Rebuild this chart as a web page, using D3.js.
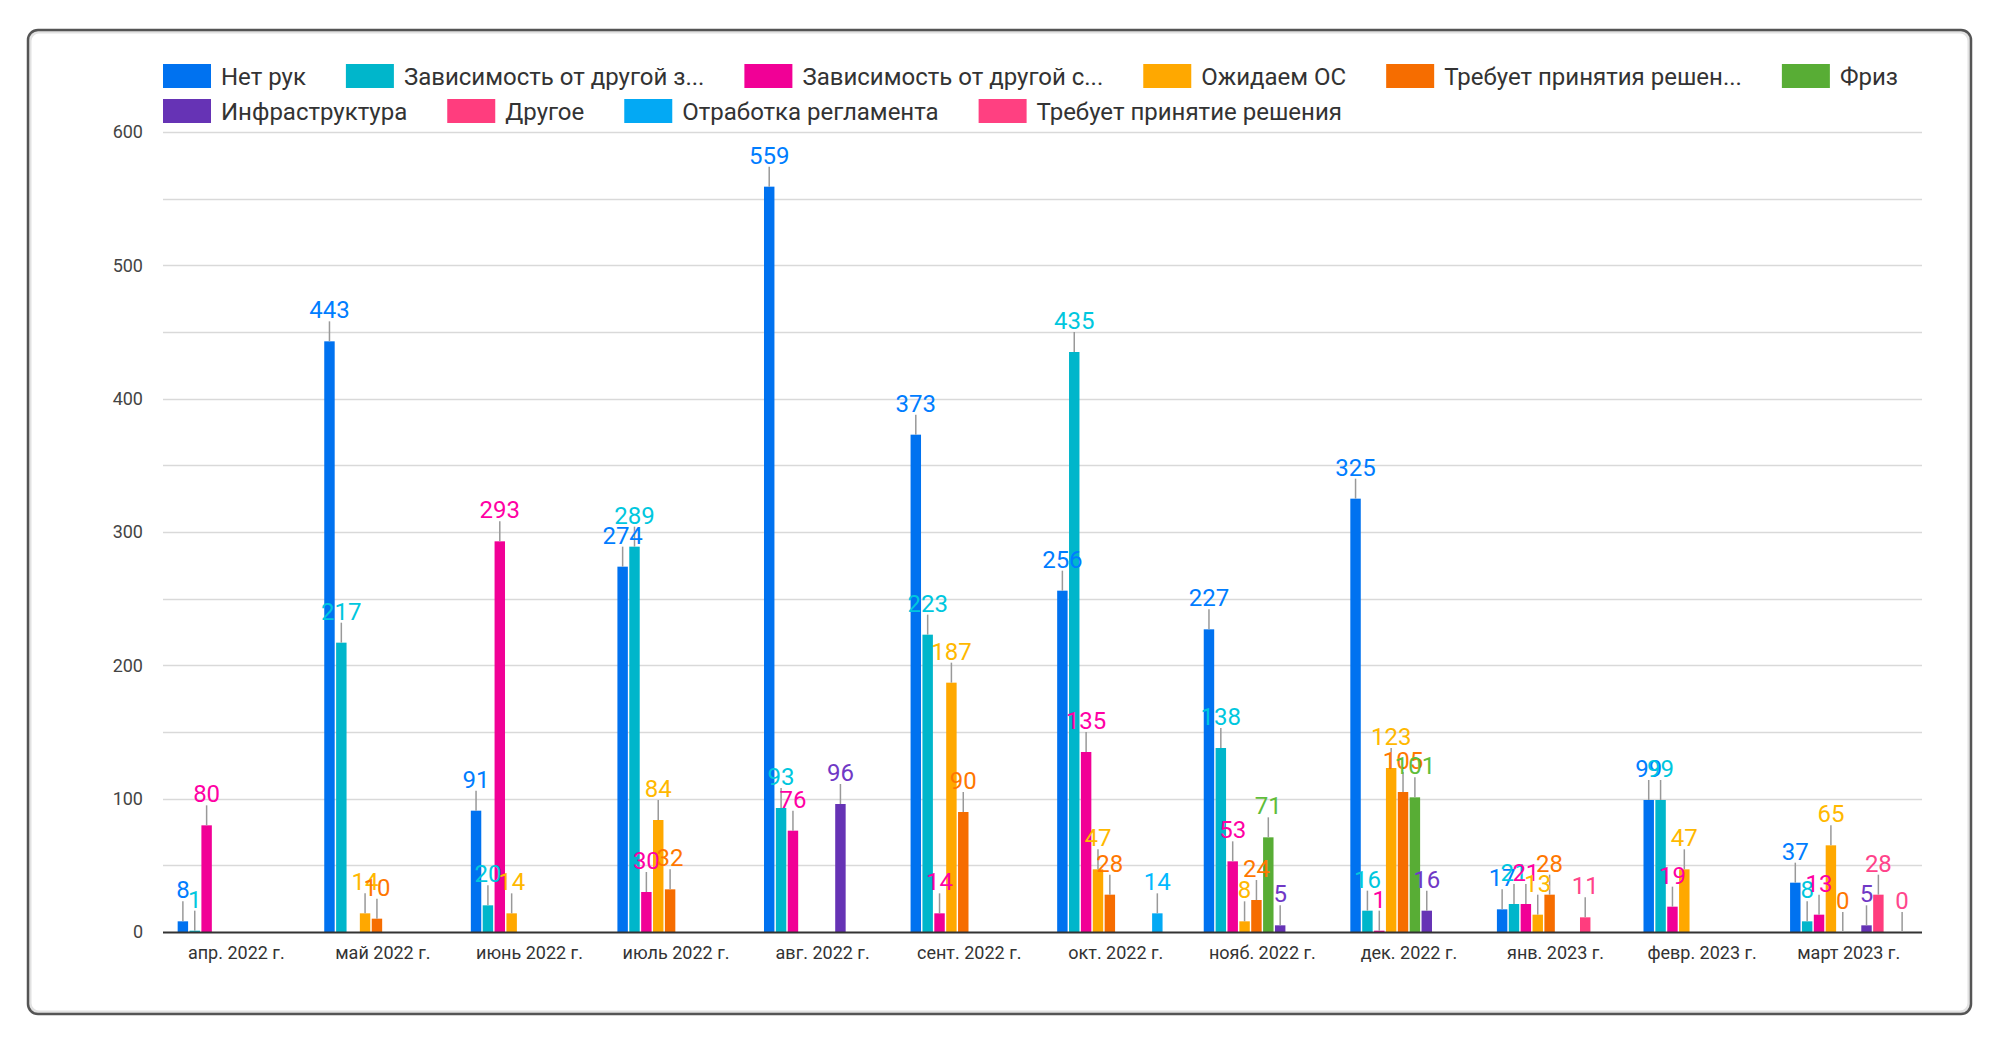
<!DOCTYPE html>
<html>
<head>
<meta charset="utf-8">
<script src="https://cdn.jsdelivr.net/npm/d3@7"></script>
<style>
  html, body { margin: 0; padding: 0; background: #fff; }
  svg { display: block; font-family: Roboto, "Noto Sans", sans-serif; }
</style>
</head>
<body>
<svg id="chart" width="2000" height="1048"></svg>
<script>
// ---- data ----
const months = ["апр. 2022 г.", "май 2022 г.", "июнь 2022 г.", "июль 2022 г.", "авг. 2022 г.", "сент. 2022 г.",
  "окт. 2022 г.", "нояб. 2022 г.", "дек. 2022 г.", "янв. 2023 г.", "февр. 2023 г.", "март 2023 г."];

const seriesNames = ["Нет рук", "Зависимость от другой з...", "Зависимость от другой с...", "Ожидаем ОС",
  "Требует принятия решен...", "Фриз", "Инфраструктура", "Другое", "Отработка регламента", "Требует принятие решения"];

const seriesColors = ["#0072f0", "#00b6cb", "#f10096", "#ffa800", "#f66d00", "#58ad35", "#6633b5", "#ff3d7e", "#03a9f4", "#ff4081"];

const netRuk     = [8, 443, 91, 274, 559, 373, 256, 227, 325, 17, 99, 37];
const zavZ       = [1, 217, 20, 289, 93, 223, 435, 138, 16, 21, 99, 8];
const zavS       = [80, null, 293, 30, 76, 14, 135, 53, 1, 21, 19, 13];
const ozhidaem   = [null, 14, 14, 84, null, 187, 47, 8, 123, 13, 47, 65];
const trebuet    = [null, 10, null, 32, null, 90, 28, 24, 105, 28, null, 0];
const friz       = [null, null, null, null, null, null, null, 71, 101, null, null, null];
const infra      = [null, null, null, null, 96, null, null, 5, 16, null, null, 5];
const drugoe     = [null, null, null, null, null, null, null, null, null, 11, null, 28];
const otrabotka  = [null, null, null, null, null, null, 14, null, null, null, null, null];
const trebuetPr  = [null, null, null, null, null, null, null, null, null, null, null, 0];

const yTicks = [0, 100, 200, 300, 400, 500, 600];
const yGrid = [50, 100, 150, 200, 250, 300, 350, 400, 450, 500, 550, 600];

const seriesValues = [netRuk, zavZ, zavS, ozhidaem, trebuet, friz, infra, drugoe, otrabotka, trebuetPr];

// ---- layout ----
const svg = d3.select("#chart");
const plot = { left: 163, right: 1922, top: 132, bottom: 932 };

// frame
svg.append("rect").attr("x", 30).attr("y", 32).attr("width", 1939).attr("height", 980)
  .attr("rx", 9).attr("fill", "none").attr("stroke", "#e2e2e2").attr("stroke-width", 3);
svg.append("rect").attr("x", 28).attr("y", 30).attr("width", 1943).attr("height", 984)
  .attr("rx", 10).attr("fill", "none").attr("stroke", "#555").attr("stroke-width", 2.5);

const x0 = d3.scaleBand().domain(d3.range(months.length)).range([plot.left, plot.right])
  .paddingInner(0.2).paddingOuter(0.1);
const x1 = d3.scaleBand().domain(d3.range(seriesNames.length)).range([0, x0.bandwidth()])
  .paddingInner(0.12);
const y = d3.scaleLinear().domain([0, 600]).range([plot.bottom, plot.top]);

// grid
svg.append("g").selectAll("line").data(yGrid).join("line")
  .attr("x1", plot.left).attr("x2", plot.right)
  .attr("y1", d => Math.round(y(d)) + 0.5).attr("y2", d => Math.round(y(d)) + 0.5)
  .attr("stroke", "#d9d9d9").attr("stroke-width", 1.5);

// y axis
const yAxis = d3.axisLeft(y).tickValues(yTicks).tickSize(0).tickPadding(20);
const gy = svg.append("g").attr("transform", `translate(${plot.left},0)`).call(yAxis);
gy.select(".domain").remove();
gy.selectAll("text").attr("font-size", 18).attr("fill", "#444").attr("font-family", "Roboto");

// x axis
const xAxis = d3.axisBottom(x0).tickFormat(i => months[i]).tickSize(0).tickPadding(14);
const gx = svg.append("g").attr("transform", `translate(0,${plot.bottom})`).call(xAxis);
gx.select(".domain").remove();
gx.selectAll("text").attr("font-size", 18).attr("fill", "#333").attr("font-family", "Roboto");

// bars
const cells = [];
seriesValues.forEach((vals, s) => vals.forEach((v, m) => { if (v !== null) cells.push({ s, m, v }); }));

const barsG = svg.append("g");
barsG.selectAll("rect").data(cells).join("rect")
  .attr("x", d => x0(d.m) + x1(d.s))
  .attr("width", x1.bandwidth())
  .attr("y", d => y(d.v))
  .attr("height", d => y(0) - y(d.v))
  .attr("fill", d => seriesColors[d.s]);

// baseline
svg.append("line").attr("x1", plot.left).attr("x2", plot.right)
  .attr("y1", plot.bottom + 0.5).attr("y2", plot.bottom + 0.5)
  .attr("stroke", "#333").attr("stroke-width", 2);

// leader lines + labels
const labelColor = c => d3.color(c).brighter(0.25).formatHex();
const lab = svg.append("g");
lab.selectAll("line").data(cells).join("line")
  .attr("x1", d => x0(d.m) + x1(d.s) + x1.bandwidth() / 2)
  .attr("x2", d => x0(d.m) + x1(d.s) + x1.bandwidth() / 2)
  .attr("y1", d => y(d.v))
  .attr("y2", d => y(d.v) - 20)
  .attr("stroke", "#999").attr("stroke-width", 1.5);
lab.selectAll("text").data(cells).join("text")
  .attr("x", d => x0(d.m) + x1(d.s) + x1.bandwidth() / 2)
  .attr("y", d => y(d.v) - 23)
  .attr("text-anchor", "middle")
  .attr("font-size", 24)
  .attr("fill", d => labelColor(seriesColors[d.s]))
  .text(d => d.v);

// legend (flow layout)
const leg = svg.append("g");
let lx = 163, ly = 64;
const rowH = 35, swW = 48, swH = 24, gapText = 10, gapItem = 40, maxX = 1922;
seriesNames.forEach((name, i) => {
  const g = leg.append("g");
  const t = g.append("text").attr("font-size", 24).attr("fill", "#333").text(name);
  const tw = t.node().getComputedTextLength();
  const w = swW + gapText + tw;
  if (lx + w > maxX) { lx = 163; ly += rowH; }
  g.append("rect").attr("x", lx).attr("y", ly).attr("width", swW).attr("height", swH)
    .attr("fill", seriesColors[i]);
  t.attr("x", lx + swW + gapText).attr("y", ly + swH / 2 + 8.5);
  lx += w + gapItem;
});
</script>
</body>
</html>
